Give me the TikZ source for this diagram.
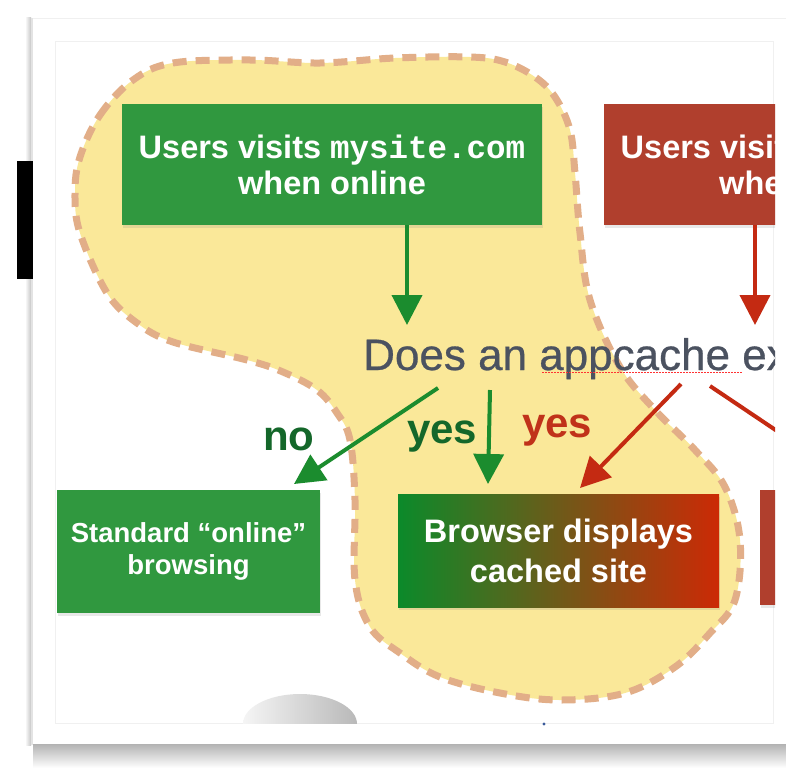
\documentclass[tikz,border=0pt]{standalone}
\usepackage{fontspec}
\setmainfont{Liberation Sans}
\setmonofont{Liberation Mono}
\newfontfamily\qfont[FakeBold=0.6]{Liberation Sans}
\usetikzlibrary{arrows.meta,shadows}
\definecolor{boxgreen}{HTML}{30983F}
\definecolor{boxred}{HTML}{B03F2D}
\definecolor{blobfill}{HTML}{FAE899}
\definecolor{blobline}{HTML}{E2AE88}
\definecolor{arrgreen}{HTML}{1B8C2E}
\definecolor{arrred}{HTML}{C42A12}
\definecolor{labgreen}{HTML}{14672A}
\definecolor{labred}{HTML}{C0321A}
\definecolor{qgray}{HTML}{4B5260}
\definecolor{gradgreen}{HTML}{0B8A2A}
\definecolor{gradmid}{HTML}{6E5A19}
\definecolor{gradred}{HTML}{CC2A06}
\definecolor{dotblue}{HTML}{3A5A9A}
\begin{document}
\begin{tikzpicture}[x=1pt,y=-1pt,
  boxbase/.style={rectangle, inner sep=0pt, text=white, align=center,
    drop shadow={opacity=0.18, shadow xshift=1pt, shadow yshift=-2.5pt}},
  gbox/.style={boxbase, fill=boxgreen},
  rbox/.style={boxbase, fill=boxred},
  bigfont/.style={font=\fontsize{32.5}{36}\selectfont\bfseries},
  midfont/.style={font=\fontsize{27.5}{32}\selectfont\bfseries},
  labfont/.style={font=\fontsize{42}{48}\selectfont\bfseries, inner sep=0pt, anchor=base west},
  garrow/.style={draw=arrgreen, line width=4pt, -{Triangle[length=30pt,width=30pt]}},
  rarrow/.style={draw=arrred, line width=4pt, -{Triangle[length=30pt,width=30pt]}}]
\useasboundingbox (0,0) rectangle (786,768);
\fill[white] (0,0) rectangle (786,768);
% photo frame
\shade[top color=gray!60, bottom color=white] (33,744) rectangle (786,768);
\shade[left color=white, right color=gray!45] (25,18) rectangle (31,745);
\fill[gray!22] (31,18) rectangle (33,745);
\draw[gray!12, line width=1pt] (33,18.5) -- (786,18.5);
\draw[gray!12, line width=1pt] (55,42) rectangle (773,723);
\fill[black] (17,161) rectangle (33,279);
% bottom oval
\begin{scope}
\clip (0,0) rectangle (786,723);
\shade[left color=gray!8, right color=gray!55] (300,724) ellipse [x radius=57, y radius=30];
\end{scope}
\fill[dotblue] (544,724) circle [radius=1.6];
\begin{scope}
\clip (0,0) rectangle (775,768);
% yellow blob
\draw[fill=blobfill, draw=blobline, line width=7pt, dash pattern=on 14pt off 9pt]
  plot[smooth cycle, tension=0.6] coordinates {
  (80,157) (100,115) (133,80) (173,63) (250,60) (320,63) (395,58) (470,57)
  (505,62) (535,77) (555,97) (570,130) (575,173) (580,233) (590,300) (620,367)
  (655,410) (695,450) (725,487) (740,540) (735,600) (710,633) (675,667)
  (625,693) (560,700) (500,693) (440,677) (400,653) (370,627) (355,580)
  (355,500) (350,440) (337,413) (317,390) (283,372) (247,360) (173,342)
  (137,323) (107,293) (80,233) (75,193)};
% top boxes
\node[gbox, bigfont, minimum width=420pt, minimum height=121pt] (g1) at (332,164.5)
  {Users visits \texttt{mysite.com}\\when online};
\node[rbox, bigfont, minimum width=420pt, minimum height=121pt] (r1) at (814,164.5)
  {Users visits \texttt{mysite.com}\\when offline};
% question
\node[font=\fontsize{44}{50}\selectfont\qfont, text=qgray, inner sep=0pt, anchor=base west] (q) at (363,370)
  {Does an appcache exist?};
\draw[red!80, line width=1pt, dash pattern=on 1.5pt off 1.5pt] (542,372) -- (742,372);
% bottom boxes
\node[gbox, midfont, minimum width=263pt, minimum height=123pt] (s1) at (188.5,551.5)
  {Standard “online”\\browsing};
\node[boxbase, left color=gradgreen, right color=gradred, middle color=gradmid,
  minimum width=321pt, minimum height=113pt, font=\fontsize{32.5}{40}\selectfont\bfseries] (b1) at (558.5,550.5)
  {Browser displays\\cached site};
\node[rbox, minimum width=60pt, minimum height=115pt] (r2) at (790,547.5) {};
% coordinates for arrow ends
\coordinate (gdown) at (407,325);
\coordinate (rdown) at (755,325);
\coordinate (nostart) at (438,388);
\coordinate (noend) at (294,484);
\coordinate (ystart) at (490,390);
\coordinate (yend) at (488,484);
\coordinate (rystart) at (681,384);
\coordinate (ryend) at (580,488);
\coordinate (rrstart) at (710,386);
\coordinate (rrend) at (850,480);
% arrows
\draw[garrow] (g1.south -| gdown) -- (gdown);
\draw[rarrow] (r1.south -| rdown) -- (rdown);
\draw[garrow] (nostart) -- (noend);
\draw[garrow] (ystart) -- (yend);
\draw[rarrow] (rystart) -- (ryend);
\draw[rarrow] (rrstart) -- (rrend);
% labels
\node[labfont, text=labgreen] (lno) at (263,450) {no};
\node[labfont, text=labgreen] (lyes) at (407,443) {yes};
\node[labfont, text=labred] (lyesr) at (522,437) {yes};
\end{scope}
\end{tikzpicture}
\end{document}
